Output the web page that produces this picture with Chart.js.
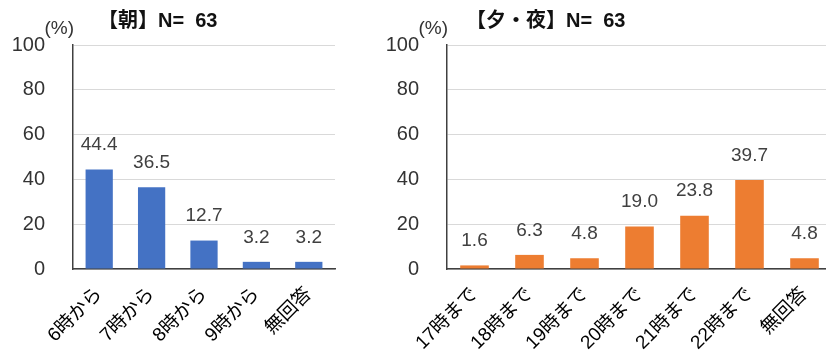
<!DOCTYPE html>
<html>
<head>
<meta charset="utf-8">
<script src="https://cdn.jsdelivr.net/npm/chart.js@4.4.0/dist/chart.umd.min.js"></script>
<style>
  html, body { margin: 0; padding: 0; background: #fff; overflow: hidden; }
  body { width: 826px; height: 356px; position: relative; }
  .box { position: absolute; top: 0; height: 356px; }
</style>
</head>
<body>
<div class="box" style="left:0;width:345px"><canvas id="morning"></canvas></div>
<div class="box" style="left:380px;width:460px"><canvas id="evening"></canvas></div>
<script>
// 朝
const morningLabels = ['6時から', '7時から', '8時から', '9時から', '無回答'];
const morningValues = [44.4, 36.5, 12.7, 3.2, 3.2];
const morningTitle = '【朝】N=  63';

// 夕・夜
const eveningLabels = ['17時まで', '18時まで', '19時まで', '20時まで', '21時まで', '22時まで', '無回答'];
const eveningValues = [1.6, 6.3, 4.8, 19.0, 23.8, 39.7, 4.8];
const eveningTitle = '【夕・夜】N=  63';

const yTicks = [0, 20, 40, 60, 80, 100];

const FONT = '"Liberation Sans", "Noto Sans CJK JP", sans-serif';

// value labels above the bars + title and unit text
const extras = {
  id: 'extras',
  afterDatasetsDraw(chart, args, opts) {
    const ctx = chart.ctx;
    const meta = chart.getDatasetMeta(0);
    ctx.save();
    ctx.font = '19px ' + FONT;
    ctx.fillStyle = '#404040';
    ctx.textAlign = 'center';
    ctx.textBaseline = 'bottom';
    meta.data.forEach((bar, i) => {
      const v = chart.data.datasets[0].data[i];
      ctx.fillText(v.toFixed(1), bar.x, bar.y - 15);
    });

    const area = chart.chartArea;
    ctx.textAlign = 'left';
    ctx.textBaseline = 'middle';
    ctx.fillStyle = '#111';
    ctx.font = 'bold 20px ' + FONT;
    ctx.fillText(opts.title, area.left + opts.titleOffset, 21);

    ctx.fillStyle = '#333';
    ctx.font = '19px ' + FONT;
    ctx.textAlign = 'right';
    ctx.fillText('(%)', area.left + 1, 29);
    ctx.restore();
  }
};

function makeChart(id, labels, values, color, title, areaLeft, titleOffset, rightPad) {
  const ctx = document.getElementById(id).getContext('2d');
  return new Chart(ctx, {
    type: 'bar',
    data: {
      labels: labels,
      datasets: [{
        data: values,
        backgroundColor: color,
        categoryPercentage: 1,
        barPercentage: 0.52
      }]
    },
    options: {
      responsive: true,
      maintainAspectRatio: false,
      animation: false,
      layout: { padding: { top: 45, right: rightPad, bottom: 0, left: 0 } },
      plugins: {
        legend: { display: false },
        tooltip: { enabled: false },
        extras: { title: title, titleOffset: titleOffset }
      },
      scales: {
        x: {
          grid: { display: false, drawTicks: false },
          border: { color: '#404040', width: 1.5 },
          ticks: {
            color: '#000',
            font: { family: FONT, size: 19 },
            minRotation: 45,
            maxRotation: 45,
            padding: 14,
            autoSkip: false
          },
          afterFit(scale) { scale.height = 87; }
        },
        y: {
          min: 0,
          max: 100,
          afterBuildTicks(scale) { scale.ticks = yTicks.map(v => ({ value: v })); },
          grid: { color: '#d9d9d9', lineWidth: 1, drawTicks: false },
          border: { color: '#404040', width: 1.5 },
          ticks: {
            color: '#333',
            font: { family: FONT, size: 20 },
            padding: 28
          },
          afterFit(scale) { scale.width = areaLeft; }
        }
      }
    },
    plugins: [extras]
  });
}

makeChart('morning', morningLabels, morningValues, '#4472C4', morningTitle, 73, 25, 10);
makeChart('evening', eveningLabels, eveningValues, '#ED7D31', eveningTitle, 67, 19, 8);
</script>
</body>
</html>
